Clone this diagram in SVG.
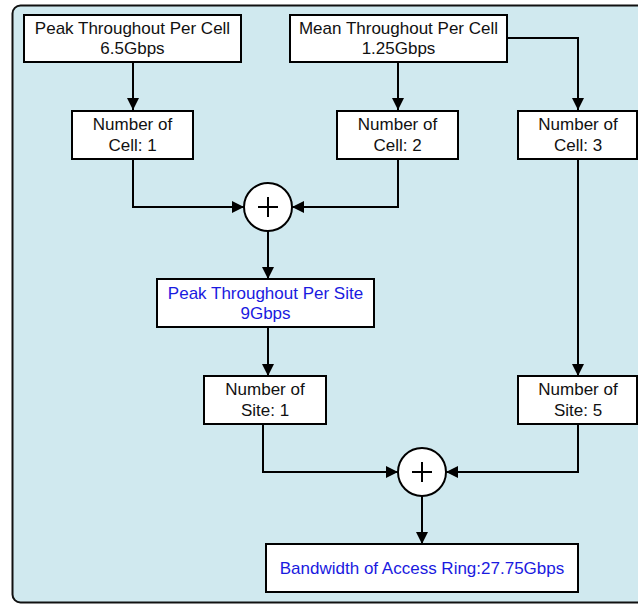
<svg xmlns="http://www.w3.org/2000/svg" width="638" height="604" viewBox="0 0 638 604">
<defs>
<marker id="ah" viewBox="0 0 10 10" refX="10" refY="5" markerWidth="12" markerHeight="12" markerUnits="userSpaceOnUse" orient="auto">
<path d="M0,0 L10,5 L0,10 z" fill="#000"/>
</marker>
</defs>
<style>
.box{fill:#fff;stroke:#000;stroke-width:2}
.circ{fill:#fff;stroke:#000;stroke-width:2}
.t{font-family:"Liberation Sans",Arial,sans-serif;font-size:17px;fill:#111;text-anchor:middle}
.b{fill:#1a1ae0}
.c{fill:none;stroke:#000;stroke-width:2;marker-end:url(#ah)}
.p{stroke:#000;stroke-width:2;fill:none}
</style>
<rect x="0" y="0" width="638" height="604" fill="#ffffff"/>
<rect x="12.5" y="5.5" width="640" height="597" rx="8" fill="#d0e9ef" stroke="#111" stroke-width="2"/>
<g id="connectors">
<path class="c" d="M133,62 V110"/>
<path class="c" d="M398,62 V110"/>
<path class="c" d="M507,38 H578 V110"/>
<path class="c" d="M133,159 V207 H244"/>
<path class="c" d="M398,159 V207 H292"/>
<path class="c" d="M268,231 V279"/>
<path class="c" d="M268,327 V376"/>
<path class="c" d="M578,159 V376"/>
<path class="c" d="M263,424 V472 H398"/>
<path class="c" d="M578,424 V472 H446"/>
<path class="c" d="M422,496 V544"/>
</g>
<g id="peak-cell">
<rect class="box" x="24" y="15" width="217" height="47"/>
<text class="t" x="132.5" y="34">Peak Throughout Per Cell</text>
<text class="t" x="132.5" y="54">6.5Gbps</text>
</g>
<g id="mean-cell">
<rect class="box" x="290" y="15" width="217" height="47"/>
<text class="t" x="398.5" y="34">Mean Throughout Per Cell</text>
<text class="t" x="398.5" y="54">1.25Gbps</text>
</g>
<g id="cell1">
<rect class="box" x="72" y="111" width="121" height="48"/>
<text class="t" x="132.5" y="130">Number of</text>
<text class="t" x="132.5" y="151">Cell: 1</text>
</g>
<g id="cell2">
<rect class="box" x="337" y="111" width="121" height="48"/>
<text class="t" x="397.5" y="130">Number of</text>
<text class="t" x="397.5" y="151">Cell: 2</text>
</g>
<g id="cell3">
<rect class="box" x="518" y="111" width="119" height="48"/>
<text class="t" x="578" y="130">Number of</text>
<text class="t" x="578" y="151">Cell: 3</text>
</g>
<g id="sum1">
<circle class="circ" cx="268" cy="207" r="24"/>
<path class="p" d="M258,207 H278 M268,197 V217"/>
</g>
<g id="peak-site">
<rect class="box" x="157" y="279" width="217" height="48"/>
<text class="t b" x="265.5" y="299">Peak Throughout Per Site</text>
<text class="t b" x="265.5" y="319">9Gbps</text>
</g>
<g id="site1">
<rect class="box" x="204" y="376" width="122" height="48"/>
<text class="t" x="265" y="395">Number of</text>
<text class="t" x="265" y="416">Site: 1</text>
</g>
<g id="site5">
<rect class="box" x="518" y="376" width="119" height="48"/>
<text class="t" x="578" y="395">Number of</text>
<text class="t" x="578" y="416">Site: 5</text>
</g>
<g id="sum2">
<circle class="circ" cx="422" cy="472" r="24"/>
<path class="p" d="M412,472 H432 M422,462 V482"/>
</g>
<g id="bandwidth">
<rect class="box" x="266" y="544" width="312" height="48"/>
<text class="t b" x="422" y="574">Bandwidth of Access Ring:27.75Gbps</text>
</g>
</svg>
